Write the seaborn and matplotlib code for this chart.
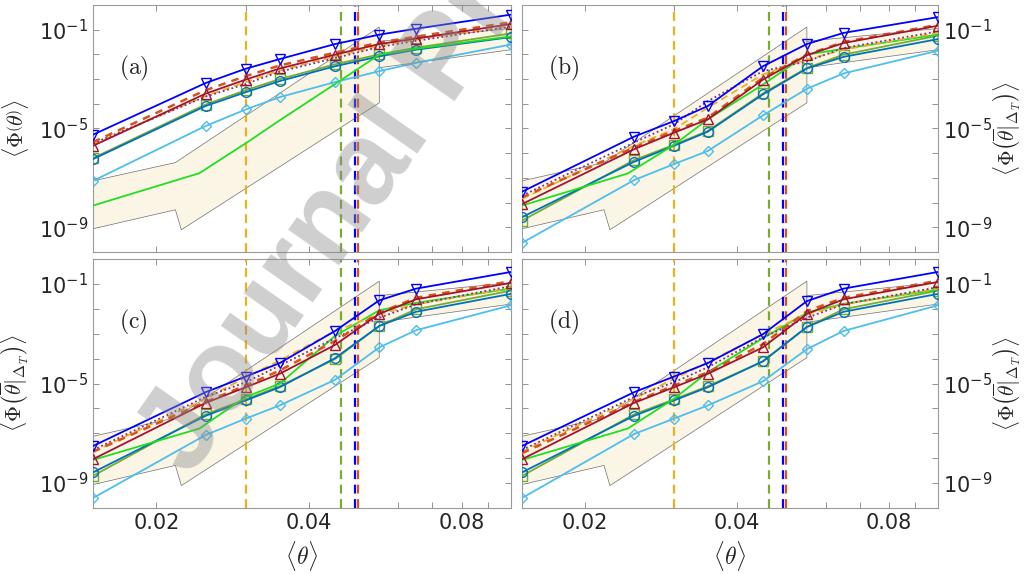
import numpy as np
import matplotlib
matplotlib.use("Agg")
import matplotlib.pyplot as plt
import seaborn as sns
from matplotlib.ticker import FixedLocator, FuncFormatter, NullLocator, NullFormatter

# ---------------- data ----------------
theta = [0.015, 0.025, 0.03, 0.035, 0.045, 0.055, 0.065, 0.1]
theta_green = [0.015, 0.0243, 0.03, 0.035, 0.045, 0.055, 0.065, 0.1]

# log10 of <Phi>, one row per panel (a, b, c, d)
log_blue_down = [
    [-5.25, -3.16, -2.58, -2.19, -1.58, -1.20, -0.96, -0.39],
    [-7.56, -5.33, -4.70, -4.09, -2.48, -1.58, -1.13, -0.49],
    [-7.51, -5.35, -4.72, -4.18, -2.89, -1.66, -1.19, -0.52],
    [-7.51, -5.35, -4.72, -4.18, -3.02, -1.69, -1.19, -0.52],
]
log_red_up = [
    [-5.70, -3.59, -3.02, -2.57, -2.01, -1.58, -1.36, -0.77],
    [-8.06, -5.84, -5.17, -4.63, -3.02, -2.03, -1.54, -0.84],
    [-8.04, -5.78, -5.15, -4.61, -3.45, -2.20, -1.62, -0.96],
    [-8.04, -5.78, -5.15, -4.61, -3.55, -2.20, -1.62, -0.92],
]
log_orange_red_dash = [
    [-5.55, -3.45, -2.88, -2.45, -1.93, -1.52, -1.28, -0.70],
    [-7.79, -5.77, -5.10, -4.56, -2.95, -2.01, -1.50, -0.80],
    [-7.74, -5.74, -5.08, -4.48, -3.29, -2.16, -1.56, -0.89],
    [-7.80, -5.74, -5.08, -4.55, -3.42, -2.09, -1.56, -0.87],
]
log_purple_dot = [
    [-5.60, -3.71, -3.20, -2.70, -2.15, -1.70, -1.45, -0.88],
    [-7.72, -5.57, -4.83, -3.89, -2.68, -2.28, -1.74, -1.07],
    [-7.67, -5.54, -4.95, -4.28, -3.18, -2.36, -1.82, -1.09],
    [-7.67, -5.54, -4.95, -4.35, -3.15, -2.36, -1.82, -1.13],
]
log_orange_dash = [
    [-5.65, -3.68, -3.12, -2.65, -2.08, -1.65, -1.40, -0.85],
    [-7.85, -5.70, -5.03, -4.16, -2.81, -2.21, -1.81, -1.13],
    [-7.74, -5.61, -4.75, -4.08, -2.89, -2.22, -1.82, -1.16],
    [-7.74, -5.61, -4.81, -4.15, -3.02, -2.22, -1.82, -1.19],
]
log_green = [
    [-8.12, -6.81, -5.60, -4.67, -3.20, -2.01, -1.77, -1.27],
    [-8.12, -6.82, -5.66, -4.63, -3.22, -2.01, -1.77, -1.20],
    [-8.07, -6.81, -5.54, -5.01, -3.09, -2.06, -1.76, -1.19],
    [-8.07, -6.81, -5.61, -4.55, -3.18, -2.16, -1.80, -1.23],
]
log_blue_circle = [
    [-6.24, -4.09, -3.53, -3.08, -2.48, -2.08, -1.81, -1.30],
    [-8.59, -6.35, -5.70, -5.13, -3.62, -2.57, -2.10, -1.38],
    [-8.57, -6.30, -5.68, -5.15, -3.98, -2.69, -2.12, -1.40],
    [-8.57, -6.30, -5.68, -5.15, -4.11, -2.73, -2.12, -1.40],
]
log_olive_square = [
    [-6.20, -4.03, -3.45, -3.00, -2.40, -2.00, -1.73, -1.15],
    [-8.73, -6.28, -5.66, -5.10, -3.58, -2.55, -2.01, -1.24],
    [-8.71, -6.24, -5.64, -5.11, -4.02, -2.69, -2.02, -1.27],
    [-8.71, -6.24, -5.64, -5.11, -4.11, -2.73, -2.02, -1.27],
]
log_cyan_diamond = [
    [-7.12, -4.90, -4.23, -3.73, -3.12, -2.68, -2.34, -1.60],
    [-9.63, -7.09, -6.44, -5.91, -4.47, -3.39, -2.77, -1.85],
    [-9.60, -7.07, -6.41, -5.88, -4.85, -3.55, -2.86, -1.86],
    [-9.60, -7.03, -6.41, -5.88, -4.91, -3.62, -2.89, -1.86],
]

# shaded range (same in all panels)
band_main_x = [0.015, 0.0218, 0.055, 0.055, 0.0224, 0.0218, 0.015]
band_main_log = [-7.12, -6.38, -0.89, -3.96, -9.10, -8.29, -9.06]
band_tail_x = [0.055, 0.1, 0.1, 0.055]
band_tail_log = [-1.47, -0.95, -1.81, -2.54]

# vertical dashed markers
vline_x = [0.03, 0.0463, 0.0493, 0.05]
vline_colors = ["#EDB120", "#77AC30", "#0000FF", "#D95319"]

panel_labels = ["(a)", "(b)", "(c)", "(d)"]
ylabel_a = r"$\langle\Phi\left(\theta\right)\rangle$"
ylabel_other = r"$\langle\Phi\left(\overline{\theta}|_{\Delta_T}\right)\rangle$"
xlabel = r"$\langle\theta\rangle$"
xtick_major = [0.02, 0.04, 0.08]
xtick_minor = [0.03, 0.05, 0.06, 0.07, 0.09]
ytick_labelled = [-9, -5, -1]
watermark = "Journal Pre-proof"

# ---------------- style ----------------
sns.set_style("white")
plt.rcParams["font.family"] = ["DejaVu Sans"]
plt.rcParams["mathtext.fontset"] = "cm"
plt.rcParams["xtick.direction"] = "in"
plt.rcParams["ytick.direction"] = "in"

series = [
    (log_cyan_diamond, theta, "#4DBEEE", "-", "D", 1.3, 5.5),
    (log_olive_square, theta, "#77AC30", "-", "s", 1.3, 6.5),
    (log_blue_circle, theta, "#0072BD", "-", "o", 1.3, 7),
    (log_green, theta_green, "#1FE01F", "-", None, 1.3, 0),
    (log_orange_dash, theta, "#EDB120", (0, (4, 2.5)), None, 1.3, 0),
    (log_purple_dot, theta, "#7E2F8E", (0, (1, 1.5)), None, 1.3, 0),
    (log_orange_red_dash, theta, "#D95319", (0, (3, 2.5)), None, 1.8, 0),
    (log_red_up, theta, "#A2142F", "-", "^", 1.3, 7),
    (log_blue_down, theta, "#0000FF", "-", "v", 1.3, 7),
]

fig = plt.figure(figsize=(10.24, 5.74), dpi=100)
W, H = 1024, 574
boxes = [
    (93, 5, 511, 252),
    (522, 5, 938, 252),
    (93, 259, 511, 508),
    (522, 259, 938, 508),
]

for i, (l, t, r, b) in enumerate(boxes):
    ax = fig.add_axes([l / W, 1 - b / H, (r - l) / W, (b - t) / H])
    ax.set_xscale("log")
    ax.set_yscale("log")

    ax.fill(band_main_x, 10.0 ** np.array(band_main_log), facecolor="#FBF5E6",
            edgecolor="#707070", lw=0.5, zorder=1)
    ax.fill(band_tail_x, 10.0 ** np.array(band_tail_log), facecolor="#FBF5E6",
            edgecolor="#707070", lw=0.5, zorder=1)

    for vx, vc in zip(vline_x, vline_colors):
        ax.axvline(vx, color=vc, lw=1.6, ls=(0, (4, 2.5)), zorder=2)

    for vals, xs, col, ls, mk, lw, ms in series:
        kw = dict(color=col, lw=lw, linestyle=ls)
        if mk is not None:
            kw.update(marker=mk, markersize=ms, markerfacecolor="none",
                      markeredgecolor=col, markeredgewidth=1.0)
        sns.lineplot(x=xs, y=10.0 ** np.array(vals[i]), ax=ax, estimator=None,
                     sort=False, legend=False, zorder=3, **kw)

    ax.set_xlim(0.015, 0.1)
    ax.set_ylim(1e-10, 1.0)

    ax.xaxis.set_major_locator(FixedLocator(xtick_major))
    ax.xaxis.set_minor_locator(FixedLocator(xtick_minor))
    ax.xaxis.set_major_formatter(FuncFormatter(lambda v, p: f"{v:.2f}"))
    ax.xaxis.set_minor_formatter(NullFormatter())
    ax.yaxis.set_major_locator(FixedLocator(10.0 ** np.arange(-10, 1)))
    ax.yaxis.set_minor_locator(NullLocator())
    ax.yaxis.set_minor_formatter(NullFormatter())
    ax.yaxis.set_major_formatter(FuncFormatter(
        lambda v, p: (r"$\mathdefault{10^{%d}}$" % round(np.log10(v)))
        if round(np.log10(v)) in ytick_labelled else ""))

    ax.tick_params(axis="both", which="both", direction="in", length=4,
                   width=0.6, color="#808080", labelsize=15, labelcolor="#262626",
                   top=True, right=True, left=True, bottom=True)
    for s in ax.spines.values():
        s.set_color("#9a9a9a")
        s.set_linewidth(0.8)

    if i < 2:
        ax.tick_params(axis="x", labelbottom=False)
    else:
        ax.set_xlabel(xlabel, fontsize=17)
        ax.xaxis.set_label_coords(0.5, -0.125)

    if i % 2 == 0:
        ax.set_ylabel(ylabel_a if i == 0 else ylabel_other, fontsize=16)
        ax.yaxis.set_label_coords(-0.148, 0.5)
    else:
        ax.tick_params(axis="y", labelleft=False, labelright=True)
        ax.yaxis.set_label_position("right")
        ax.set_ylabel(ylabel_other, fontsize=15.5)
        ax.yaxis.set_label_coords(1.128, 0.5)

    ax.text(0.063, 0.745, r"$\mathrm{%s}$" % panel_labels[i], transform=ax.transAxes,
            fontsize=17, ha="left", va="center")

# watermark
fig.text(190 / W, 1 - 478 / H, watermark, rotation=55, ha="left",
         va="baseline", fontsize=84, fontweight="bold", color="#8c8c8c", alpha=0.42,
         family="Liberation Sans", rotation_mode="anchor", zorder=20)

fig.savefig("out.png", dpi=100)
